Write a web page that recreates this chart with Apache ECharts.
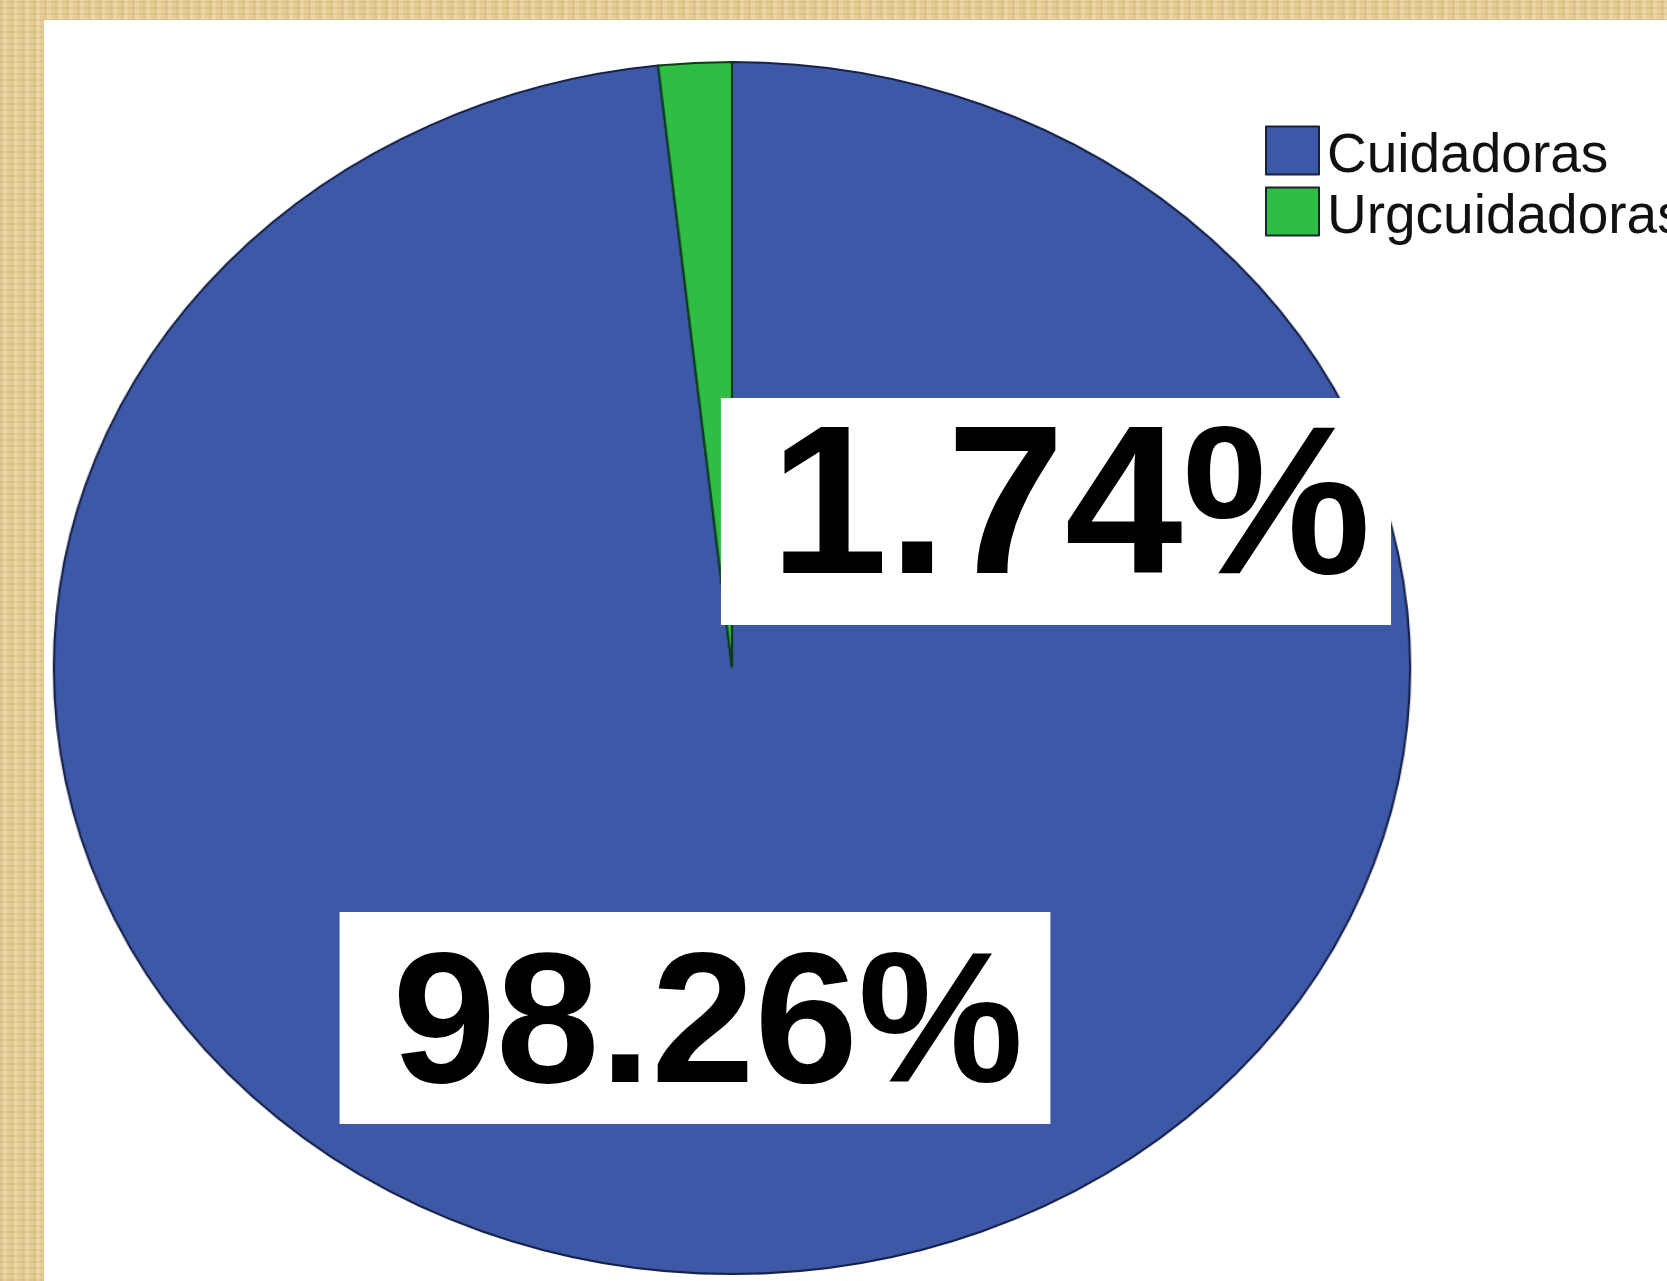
<!DOCTYPE html>
<html>
<head>
<meta charset="utf-8">
<title>Cuidadoras</title>
<script src="https://cdn.jsdelivr.net/npm/echarts@6/dist/echarts.min.js"></script>
<style>
html, body { margin: 0; padding: 0; width: 1667px; height: 1281px; overflow: hidden; }
body {
    position: relative;
    background-color: #e8cf98;
    background-image:
        repeating-linear-gradient(90deg, rgba(150,110,40,0.12) 0 3px, rgba(255,250,230,0.10) 3px 7px, rgba(150,110,40,0.05) 7px 11px),
        repeating-linear-gradient(0deg, rgba(150,110,40,0.08) 0 2px, rgba(255,250,230,0.08) 2px 6px);
}
#panel { position: absolute; left: 44px; top: 20px; right: 0; bottom: 0; background: #fff; }
/* el pastel original es una elipse: se estira en horizontal */
#pieChart { position: absolute; left: 0; top: 0; width: 1667px; height: 1281px; transform: scaleX(1.119); transform-origin: 732px 0; }
#textChart { position: absolute; left: 0; top: 0; width: 1667px; height: 1281px; }
</style>
</head>
<body>
<div id="panel"></div>
<div id="pieChart"></div>
<div id="textChart"></div>
<script>
// datos
var categorias = ['Cuidadoras', 'Urgcuidadoras'];
var porcentajes = [98.26, 1.74];

// estilos
var colores = ['#3e58a8', '#2fbd43'];
var bordes = ['#17224a', '#0c3d18'];

window.onload = function () {
    showPie();
    showTexto();
};

// pastel (estirado)
function showPie() {
    var myChart = echarts.init(document.getElementById('pieChart'));
    var data = [];
    for (var i = 0; i < categorias.length; i++) {
        data.push({
            name: categorias[i],
            value: porcentajes[i],
            itemStyle: {color: colores[i], borderColor: bordes[i], borderWidth: 2}
        });
    }
    var option = {
        animation: false,
        series: [
            {
                type: 'pie',
                center: [732, 668],
                radius: 606,
                startAngle: 90,
                clockwise: true,
                silent: true,
                label: {show: false},
                labelLine: {show: false},
                data: data
            }
        ]
    };
    myChart.setOption(option);
}

// etiquetas y leyenda (sin estirar)
function showTexto() {
    var myChart = echarts.init(document.getElementById('textChart'));
    // esquina superior / centro horizontal de cada caja blanca
    var cajas = [
        {x: 695, y: 912},
        {x: 1056, y: 398}
    ];
    var etiquetas = [
        {fontSize: 186, lineHeight: 180, padding: [29, 27, 3, 53]},
        {fontSize: 212, lineHeight: 180, padding: [27, 20, 20, 49]}
    ];
    var data = [];
    for (var i = 0; i < categorias.length; i++) {
        data.push({
            name: categorias[i],
            value: porcentajes[i],
            itemStyle: {color: colores[i], borderWidth: 0},
            label: etiquetas[i]
        });
    }
    var option = {
        animation: false,
        legend: {
            orient: 'vertical',
            left: 1260,
            top: 112,
            itemWidth: 53,
            itemHeight: 48,
            itemGap: -6,
            icon: 'rect',
            selectedMode: false,
            itemStyle: {borderColor: '#1a2233', borderWidth: 2},
            formatter: function (name) {
                return '{t|' + name + '}';
            },
            textStyle: {
                rich: {
                    t: {fontFamily: '"Liberation Sans", Arial, sans-serif', fontSize: 55, lineHeight: 40, color: '#111', padding: [12, 0, 0, 3]}
                }
            },
            data: categorias
        },
        series: [
            {
                type: 'pie',
                center: [732, 668],
                radius: 1,
                startAngle: 90,
                silent: true,
                label: {
                    show: true,
                    position: 'inside',
                    formatter: '{d}%',
                    fontFamily: '"Liberation Sans", Arial, sans-serif',
                    color: '#000',
                    fontWeight: 'bold',
                    backgroundColor: '#fff'
                },
                labelLine: {show: false},
                labelLayout: function (params) {
                    var c = cajas[params.dataIndex];
                    return {x: c.x, y: c.y, align: 'center', verticalAlign: 'top'};
                },
                data: data
            }
        ]
    };
    myChart.setOption(option);
}
</script>
</body>
</html>
